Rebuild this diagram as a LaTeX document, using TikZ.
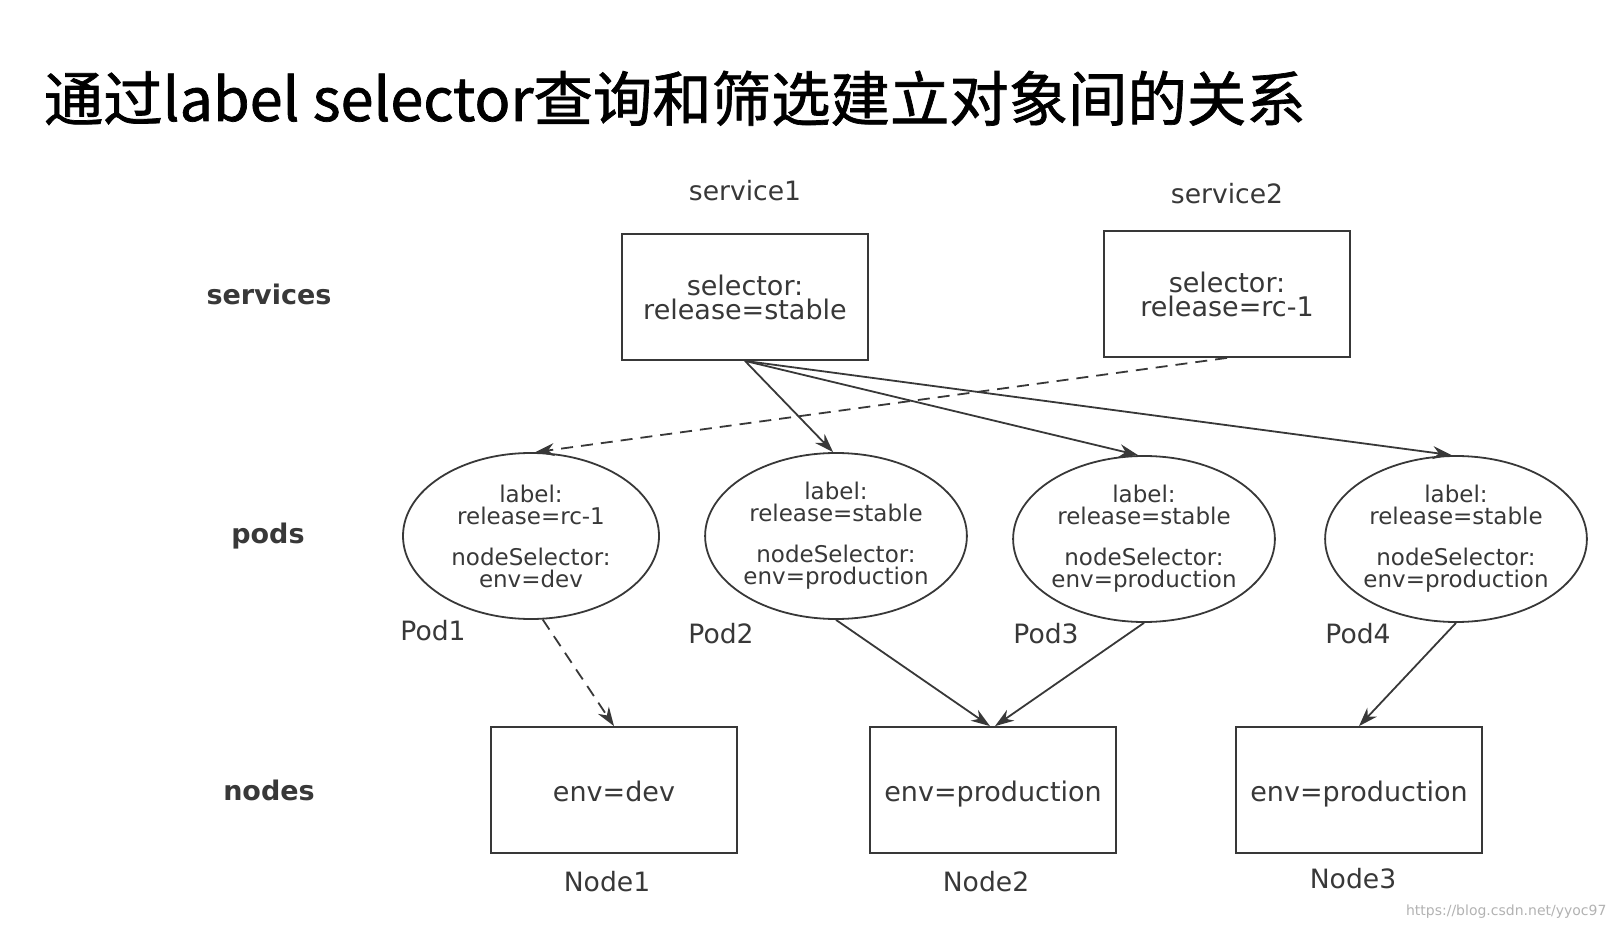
\documentclass[tikz,border=0pt]{standalone}
\usepackage{fontspec}
\setmainfont{DejaVu Sans}
\newfontfamily\cjk[FakeBold=1.2]{Noto Sans CJK SC}
\usepackage{tikz}
\usetikzlibrary{arrows.meta,shapes.geometric}

\begin{document}
\begin{tikzpicture}[->,>={Stealth[length=9.5pt,width=6.5pt]},line width=0.9pt,
                    x=0.5pt,y=-0.5pt,color=black!78]
  \tikzstyle{svc}=[rectangle,draw,minimum width=123pt,minimum height=63pt,
                   align=center,font=\fontsize{13.5}{12}\selectfont]
  \tikzstyle{pod}=[ellipse,draw,inner sep=0pt,minimum width=128pt,minimum height=83pt,
                   align=center,font=\fontsize{11.5}{11}\selectfont]
  \tikzstyle{host}=[svc,text height=13pt,text depth=2pt]
  \tikzstyle{tag}=[font=\fontsize{13.3}{16}\selectfont]
  \tikzstyle{layer}=[font=\bfseries\fontsize{13.5}{16}\selectfont]

  \useasboundingbox (0,0) rectangle (1622,930);

  \node[anchor=base west,inner sep=0pt,text=black,
        font=\cjk\fontsize{29.7}{36}\selectfont] (title) at (43,121)
        {通过label selector查询和筛选建立对象间的关系};

  \node[layer] (lsvc)  at (269,294) {services};
  \node[layer] (lpod)  at (268,536) {pods};
  \node[layer] (lhost) at (269,790) {nodes};

  \node[svc] (svc1) at (745,297) {selector:\\release=stable};
  \node[svc] (svc2) at (1227,294) {selector:\\release=rc-1};
  \node[tag] (svc1name) at (745,191) {service1};
  \node[tag] (svc2name) at (1227,194) {service2};

  \node[pod] (pod1) at (531,536) {label:\\release=rc-1\\[9.5pt]nodeSelector:\\env=dev};
  \node[pod] (pod2) at (836,536) {label:\\release=stable\\[9.5pt]nodeSelector:\\env=production};
  \node[pod] (pod3) at (1144,539) {label:\\release=stable\\[9.5pt]nodeSelector:\\env=production};
  \node[pod] (pod4) at (1456,539) {label:\\release=stable\\[9.5pt]nodeSelector:\\env=production};
  \node[tag] (pod1name) at (433,631) {Pod1};
  \node[tag] (pod2name) at (721,634) {Pod2};
  \node[tag] (pod3name) at (1046,634) {Pod3};
  \node[tag] (pod4name) at (1358,634) {Pod4};

  \node[host] (host1) at (614,790) {env=dev};
  \node[host] (host2) at (993,790) {env=production};
  \node[host] (host3) at (1359,790) {env=production};
  \node[tag] (host1name) at (607,882) {Node1};
  \node[tag] (host2name) at (986,882) {Node2};
  \node[tag] (host3name) at (1353,879) {Node3};

  \node[anchor=east,text=black!30,font=\fontsize{7}{9}\selectfont] (mark) at (1614,912)
        {https://blog.csdn.net/yyoc97};

  \path (svc1.south) edge (pod2.92)
                     edge (pod3.94)
                     edge (pod4.93)
        (svc2.south) edge [dashed,dash pattern=on 6pt off 4pt] (pod1.87)
        (pod1.-82)   edge [dashed,dash pattern=on 6pt off 4pt] (host1.north)
        (pod2.south) edge ([xshift=-1.5pt]host2.north)
        (pod3.south) edge ([xshift=1pt]host2.north)
        (pod4.south) edge (host3.north);
\end{tikzpicture}
\end{document}
